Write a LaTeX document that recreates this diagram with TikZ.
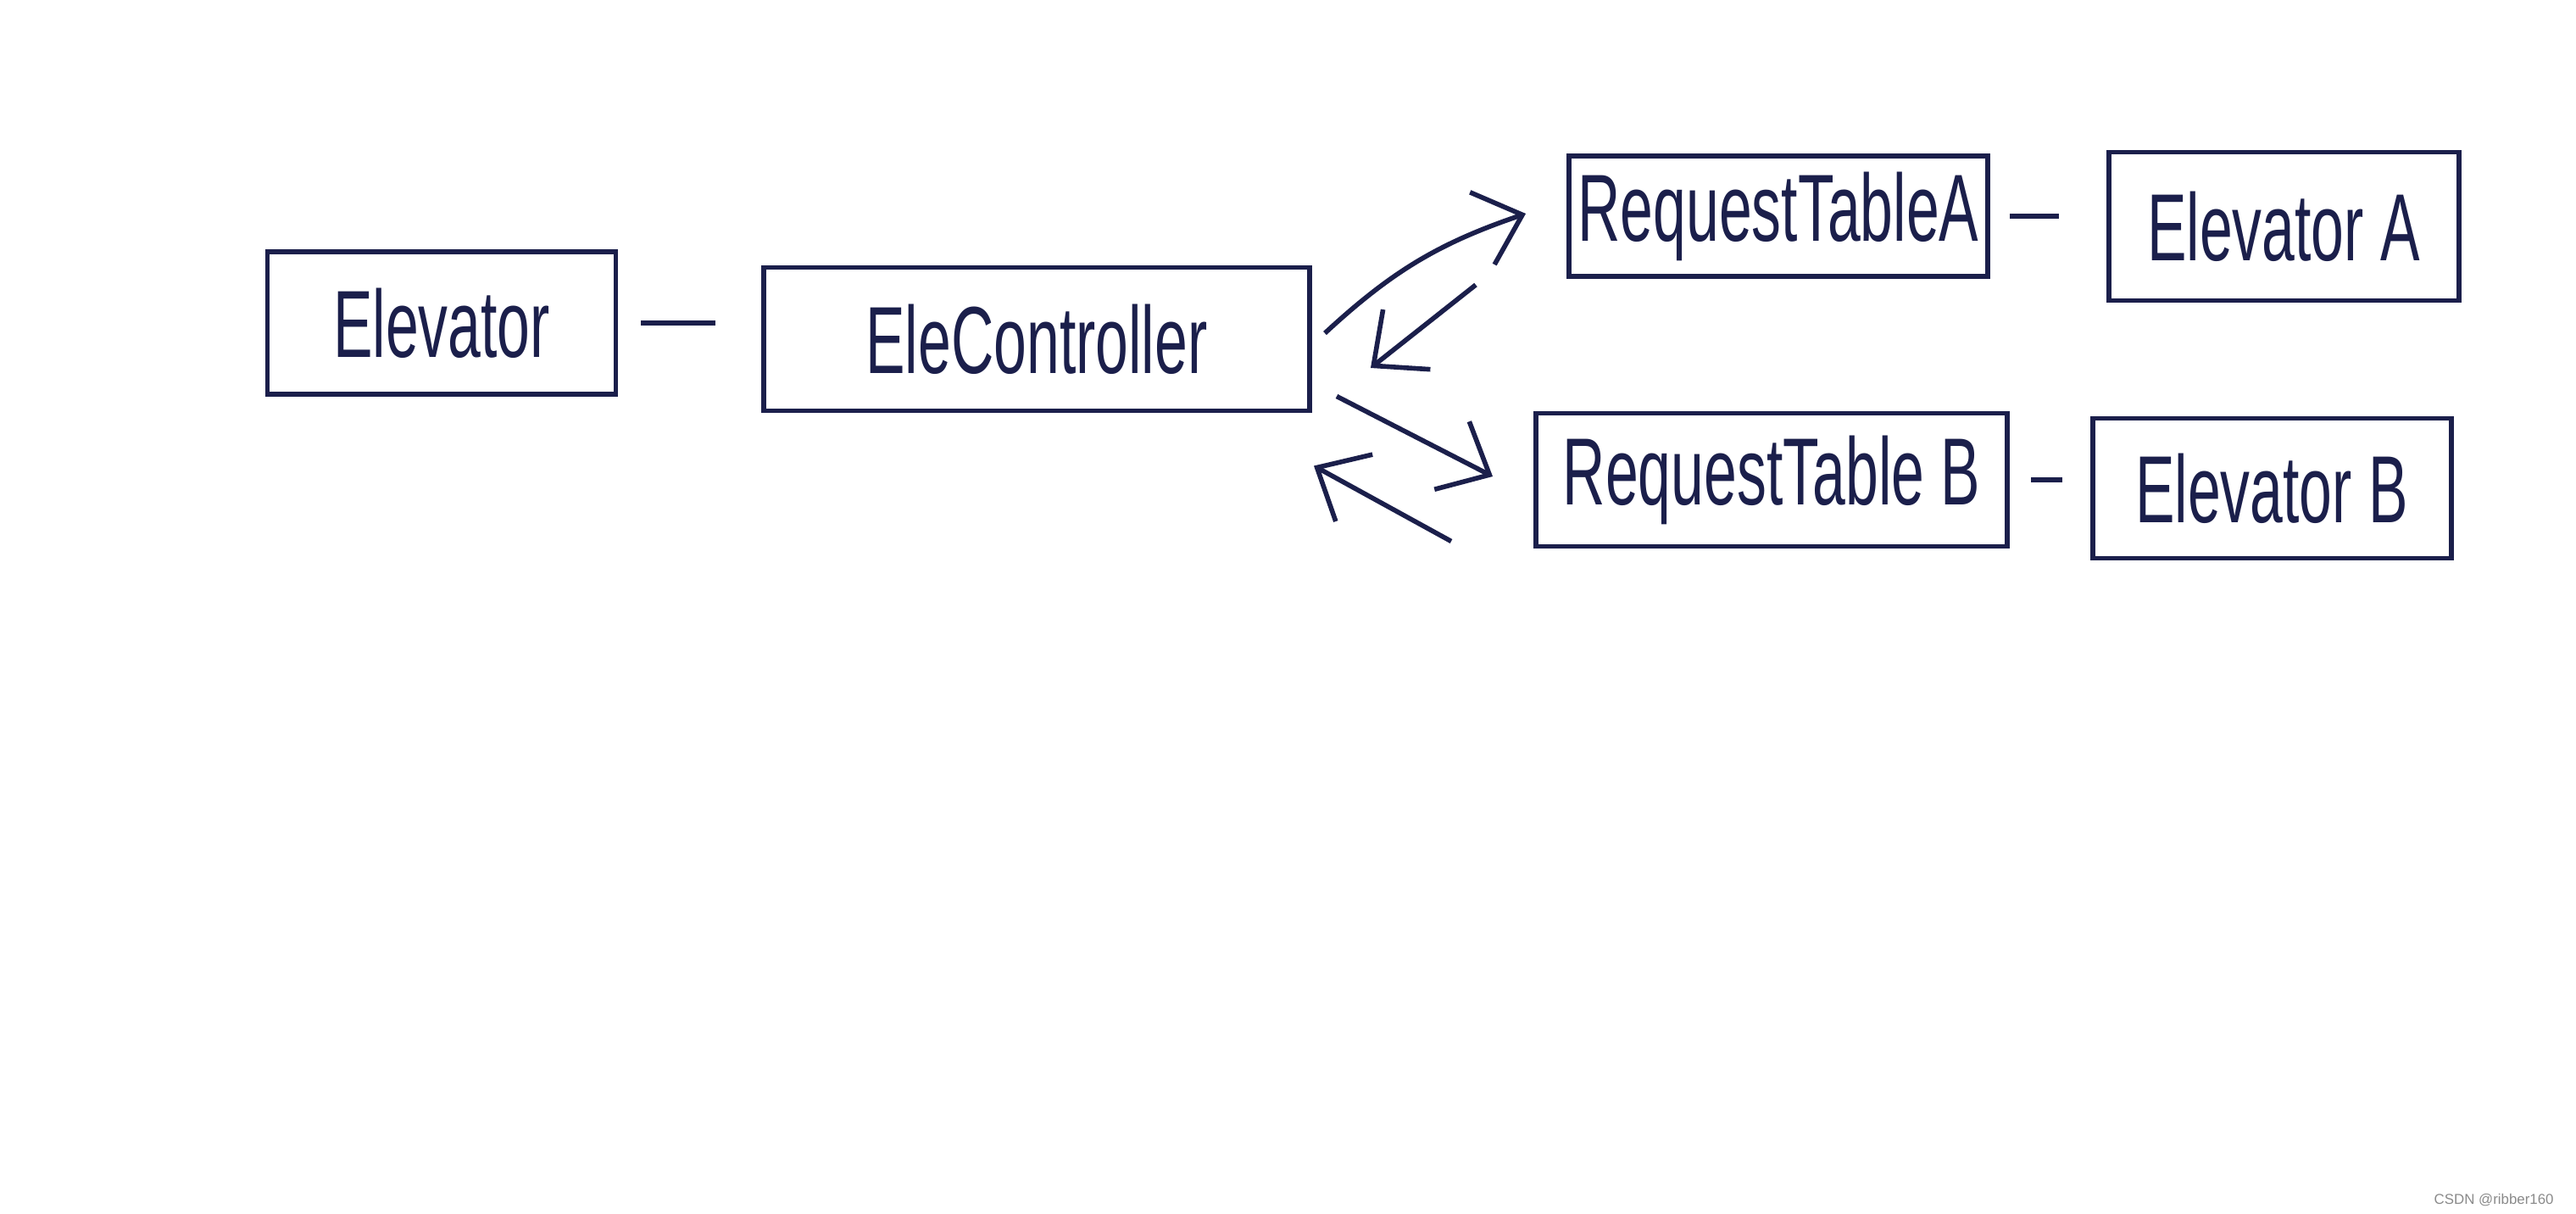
\documentclass[tikz,border=0pt]{standalone}
\usepackage{fontspec}
\setmainfont{Liberation Sans}
\newfontfamily\handfont[FakeStretch=0.62]{Liberation Sans}
\usepackage{tikz}
\usetikzlibrary{arrows.meta,positioning,calc}
\definecolor{ink}{HTML}{1B1F4B}
\definecolor{markgray}{HTML}{8A8A8A}

\begin{document}
\begin{tikzpicture}[
  box/.style={draw=ink,line width=1.7pt,text=ink,inner sep=0pt,font=\handfont\fontsize{32}{34}\selectfont},
  link/.style={draw=ink,line width=1.8pt},
  arr/.style={draw=ink,line width=1.6pt,-{Straight Barb[length=5mm,width=9mm]}}]
\useasboundingbox (0,0) rectangle (30.39,-14.32);
\foreach \n/\x/\y/\w/\h/\t in {elev/5.21/-3.81/4.11/1.68/Elevator,
  ctrl/12.23/-4.00/6.44/1.69/EleController,
  rta/20.98/-2.55/4.94/1.42/RequestTableA,
  ea/26.94/-2.67/4.13/1.75/Elevator A,
  rtb/20.90/-5.66/5.56/1.57/RequestTable B,
  eb/26.80/-5.76/4.23/1.65/Elevator B}{
  \node[box,minimum width=\w cm,minimum height=\h cm] (\n) at (\x,\y) {\t};}
% short dashes between boxes
\draw[link,shorten <=.27cm,shorten >=.54cm](elev.east)--(elev.east -| ctrl.west);
\draw[link,shorten <=.23cm,shorten >=.56cm](rta.east)--(rta.east -| ea.west);
\draw[link,shorten <=.25cm,shorten >=.33cm](rtb.east)--(rtb.east -| eb.west);
% requests and replies
\draw[arr]([xshift=.15cm,yshift=.07cm]ctrl.east) to[bend left=12] ([xshift=-.48cm,yshift=.03cm]rta.west);
\draw[arr]([xshift=-1.07cm,yshift=-.07cm]rta.south west)--([xshift=.69cm,yshift=-.34cm]ctrl.east);
\draw[arr]([xshift=.29cm,yshift=.2cm]ctrl.south east)--([xshift=-.48cm,yshift=.04cm]rtb.west);
\draw[arr]([xshift=-.97cm,yshift=.09cm]rtb.south west)--([xshift=.02cm,yshift=-.62cm]ctrl.south east);
\node[text=markgray,font=\fontsize{4.8}{5}\selectfont,anchor=east] (mark) at (30.25,-14.16) {CSDN @ribber160};
\end{tikzpicture}
\end{document}
